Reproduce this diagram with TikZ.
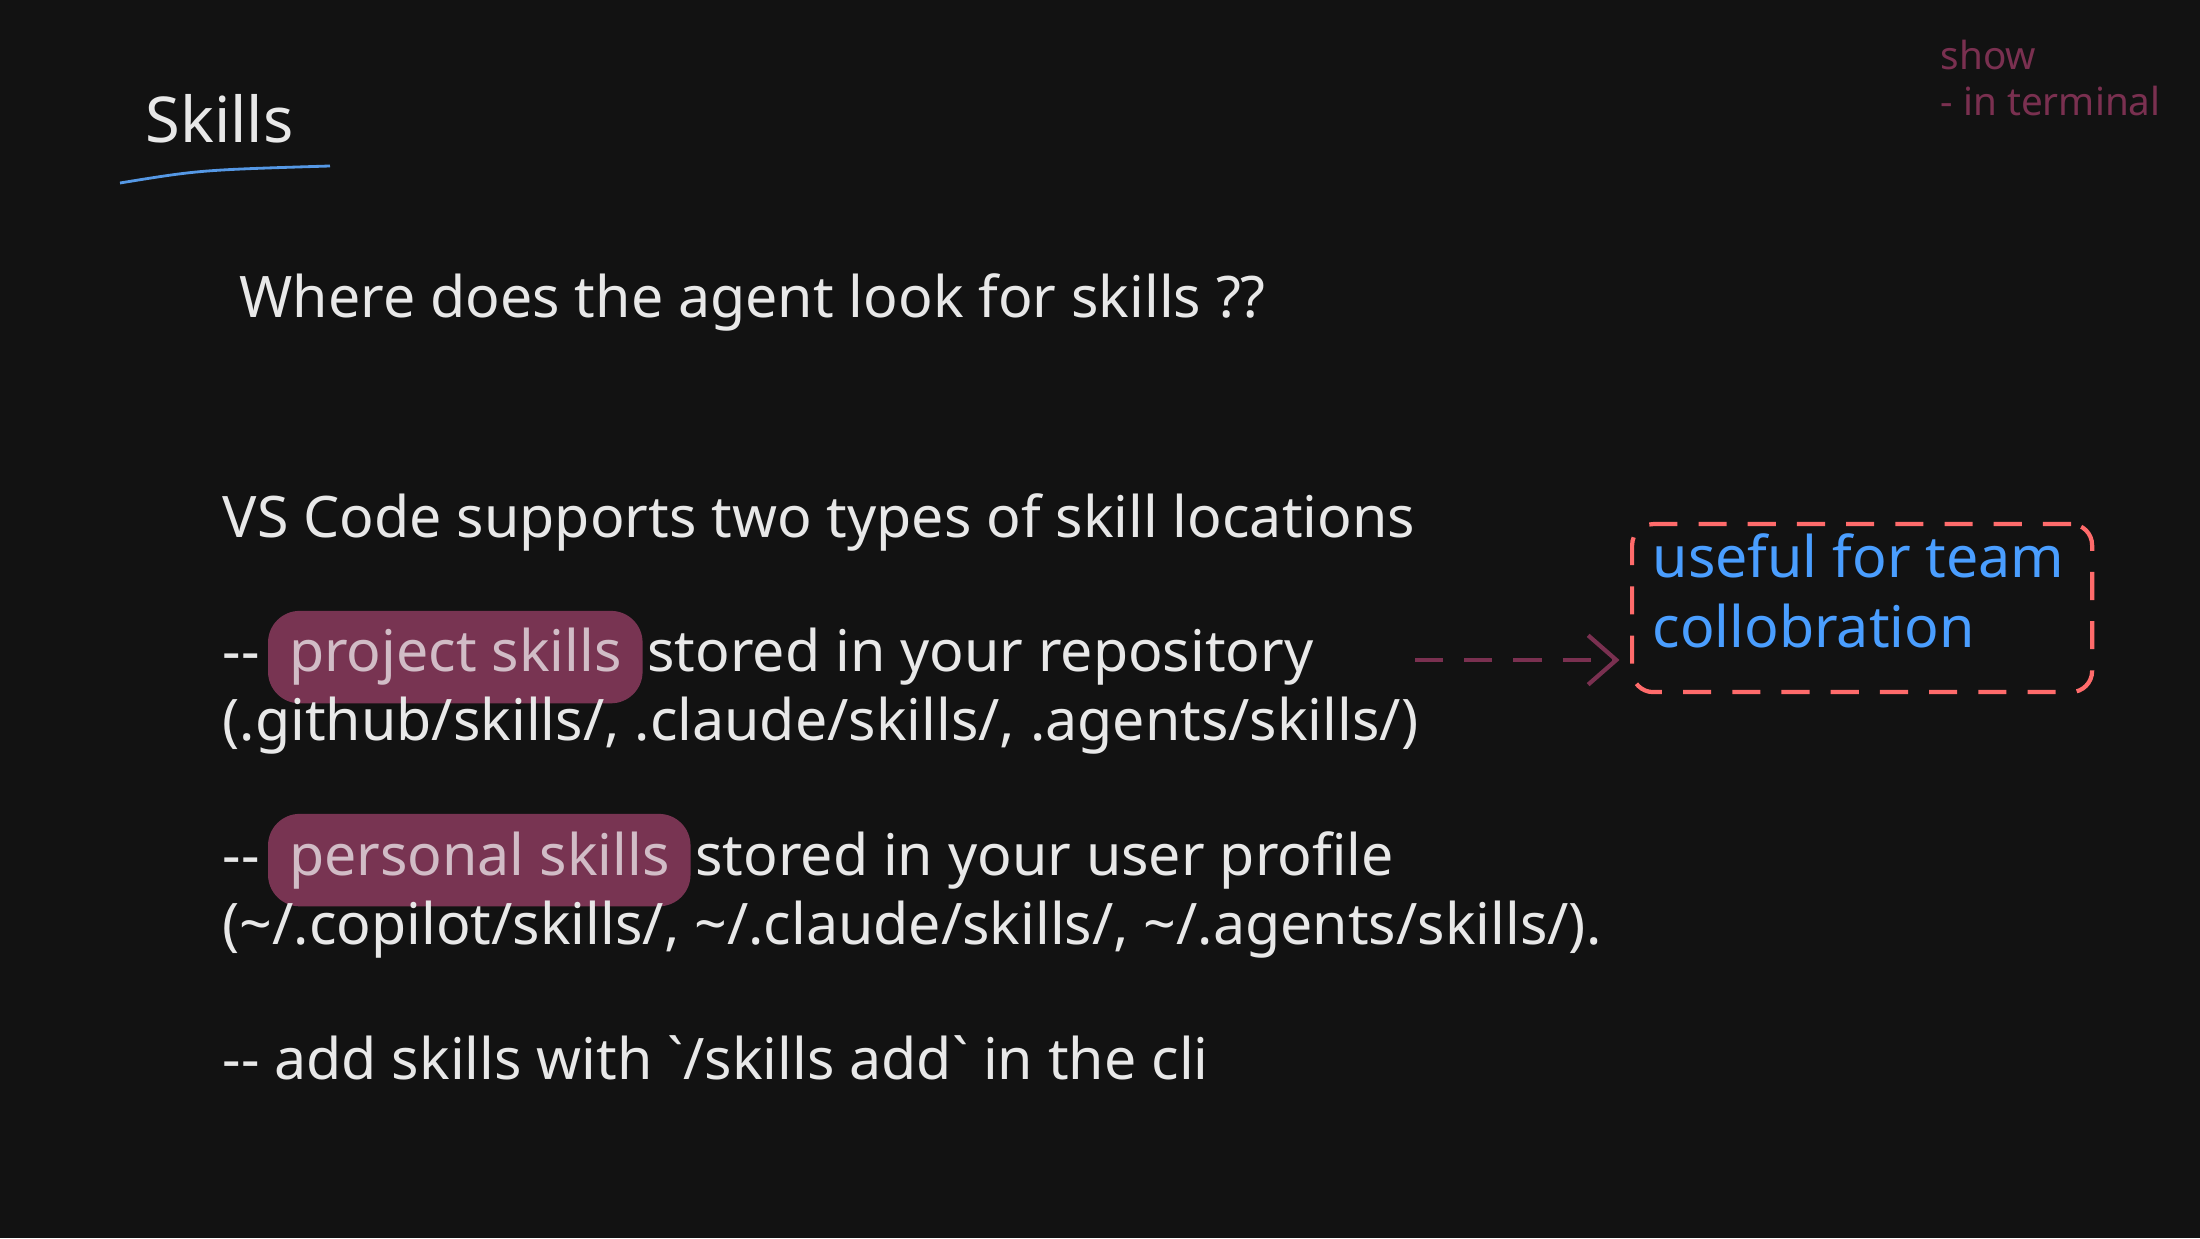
\documentclass[tikz,border=0pt]{standalone}
\usepackage{fontspec}
\setmainfont{Noto Sans}[Ligatures=TeXOff]
\usetikzlibrary{positioning,backgrounds,arrows.meta}
\definecolor{bg}{HTML}{121212}
\definecolor{ink}{HTML}{E8E8E8}
\definecolor{mauve}{HTML}{7A3050}
\definecolor{hlc}{HTML}{8A3A5E}
\definecolor{boxred}{HTML}{FF6B6B}
\definecolor{sky}{HTML}{4A9EFF}
\newcommand{\dd}{{-}{-}}
\newcommand{\btick}{\symbol{"60}}
\tikzset{
  txt/.style={text=ink, font=\fontsize{16.3}{20}\selectfont, inner sep=0pt, anchor=base west},
  hl/.style={txt, text=ink!75!hlc, fill=hlc, rounded corners=9pt, inner xsep=6pt, inner ysep=5pt, fill opacity=0.85, text opacity=1},
}
\begin{document}
\begin{tikzpicture}
\fill[bg] (0,0) rectangle (22,12.38);
\useasboundingbox (0,0) rectangle (22,12.38);
			% title
			\node[txt, font=\fontsize{18}{22}\selectfont] (title) at (1.45,10.95) {Skills};
			\coordinate (u1) at (1.2,10.55);
			\coordinate (u2) at (3.3,10.72);
			\draw[sky!80!gray, thick] (u1) .. controls (2,10.68) .. (u2);
			% side note
			\node[txt, text=mauve, font=\fontsize{11}{13}\selectfont] (show) at (19.4,11.68) {show};
			\node[txt, text=mauve, font=\fontsize{11}{13}\selectfont] (term) at (19.4,11.22) {- in terminal};
			% body
			\node[txt] (q) at (2.39,9.2) {Where does the agent look for skills ??};
			\node[txt] (vs) at (2.22,7.0) {VS Code supports two types of skill locations};
			\node[txt] (d1) at (2.22,5.66) {\dd};
			\node[hl, right=2pt of d1.base east, anchor=base west] (proj) {project skills};
			\node[txt, right=1pt of proj.base east, anchor=base west] (r1) {stored in your repository};
			\node[txt] (p1) at (2.22,4.97) {(.github/skills/, .claude/skills/, .agents/skills/)};
			\node[txt] (d2) at (2.22,3.63) {\dd};
			\node[hl, right=2pt of d2.base east, anchor=base west] (pers) {personal skills};
			\node[txt, right=1pt of pers.base east, anchor=base west] (r2) {stored in your user profile};
			\node[txt] (p2) at (2.22,2.94) {(\textasciitilde/.copilot/skills/, \textasciitilde/.claude/skills/, \textasciitilde/.agents/skills/).};
			\node[txt] (cli) at (2.22,1.59) {\dd{} add skills with \btick/skills add\btick{} in the cli};
			% callout
			\node[draw=boxred, dashed, very thick, rounded corners=6pt, dash pattern=on 8pt off 6pt,
			      minimum width=4.6cm, minimum height=1.68cm, anchor=north west] (box) at (16.3,7.16) {};
			\node[txt, text=sky] (c1) at (16.52,6.6) {useful for team};
			\node[txt, text=sky] (c2) at (16.52,5.9) {collobration};
			\coordinate (a0) at (14.15,5.78);
			\draw[mauve, very thick, dash pattern=on 8pt off 6pt, -{Straight Barb[length=8pt,width=14pt]}] (a0) -- ([xshift=-3pt]box.west|-a0);
\end{tikzpicture}
\end{document}
